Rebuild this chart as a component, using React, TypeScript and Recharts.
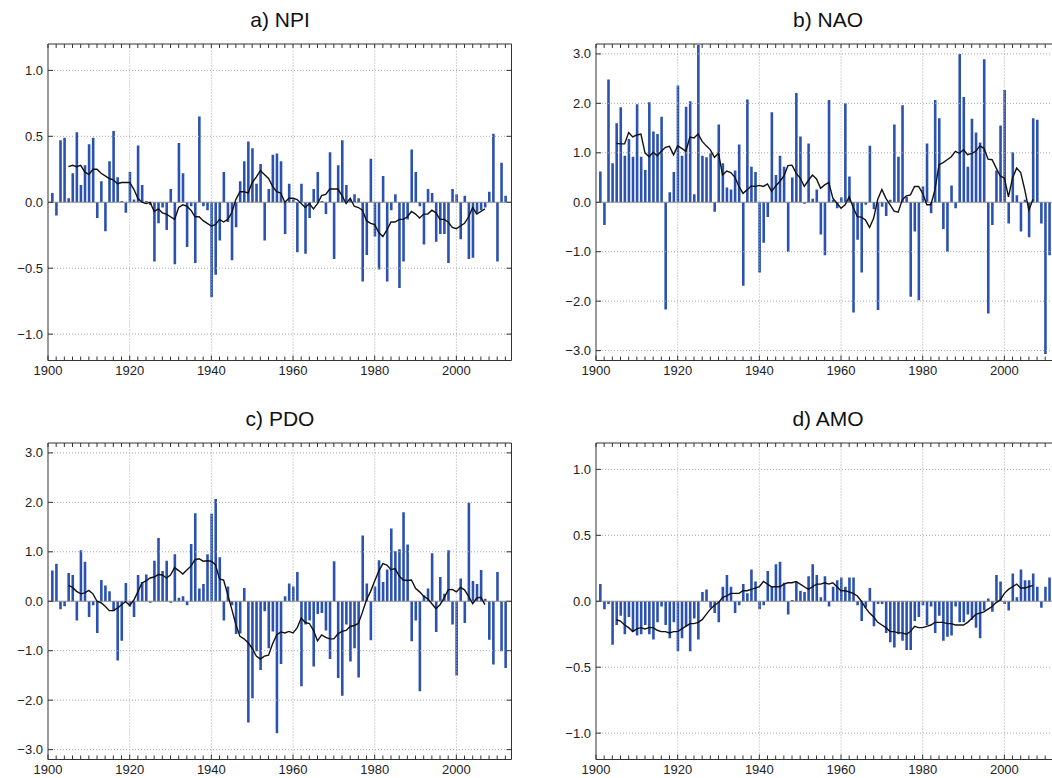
import React from 'react';
import { ComposedChart, Bar, Line, XAxis, YAxis, ReferenceLine } from 'recharts';

// yearly index values, first bar is 1901
const FIRST_YEAR = 1901;
// running mean starts here
const SMOOTH_START = 1905;

const NPI = [
  0.07, -0.10, 0.47, 0.49, 0.03, 0.22, 0.53, 0.13, 0.28, 0.44,
  0.49, -0.12, 0.16, -0.22, 0.31, 0.54, 0.19, 0.01, -0.08, 0.23,
  0.02, 0.43, 0.13, 0.01, -0.02, -0.45, -0.16, -0.04, -0.21, 0.10,
  -0.47, 0.45, 0.22, -0.34, -0.03, -0.46, 0.65, -0.03, -0.06, -0.72,
  -0.55, -0.29, 0.23, -0.15, -0.44, -0.19, 0.16, 0.31, 0.46, 0.41,
  0.14, 0.29, -0.29, 0.10, 0.36, 0.37, 0.31, -0.24, 0.14, 0.02,
  -0.38, 0.14, -0.39, -0.12, 0.10, 0.23, 0.01, -0.09, 0.38, -0.43,
  0.28, 0.47, 0.13, 0.02, 0.06, 0.03, -0.60, -0.40, 0.33, -0.26,
  -0.51, 0.20, -0.60, -0.06, 0.06, -0.65, -0.45, -0.13, 0.40, 0.23,
  -0.03, -0.32, 0.10, 0.07, -0.30, -0.24, -0.24, -0.46, 0.10, 0.06,
  -0.28, 0.05, -0.43, -0.42, -0.08, -0.06, -0.04, 0.08, 0.52, -0.45,
  0.30, 0.05,
];
const NPI_SMOOTH = [
  0.27, 0.28, 0.27, 0.28, 0.23, 0.21, 0.25, 0.25, 0.22, 0.20,
  0.18, 0.17, 0.14, 0.15, 0.15, 0.15, 0.10, 0.03, 0.00, -0.01,
  0.00, -0.07, -0.05, -0.08, -0.09, -0.11, -0.13, -0.04, -0.02, -0.03,
  -0.06, -0.11, -0.11, -0.14, -0.16, -0.18, -0.17, -0.13, -0.15, -0.13,
  -0.08, 0.02, 0.08, 0.08, 0.07, 0.15, 0.19, 0.24, 0.21, 0.18,
  0.12, 0.08, 0.07, 0.00, 0.03, 0.03, 0.02, -0.01, -0.04, -0.01,
  -0.05, -0.01, 0.05, 0.06, 0.10, 0.10, 0.10, 0.05, -0.01, 0.03,
  -0.03, -0.04, -0.06, -0.14, -0.16, -0.17, -0.23, -0.26, -0.21, -0.15,
  -0.15, -0.13, -0.13, -0.11, -0.07, -0.09, -0.12, -0.09, -0.09, -0.06,
  -0.08, -0.13, -0.13, -0.15, -0.19, -0.20, -0.18, -0.16, -0.11, -0.04,
  -0.09, -0.07, -0.05,
];

const NAO = [
  0.62, -0.46, 2.48, 0.79, 1.60, 1.92, 0.94, 1.28, 0.92, 1.98,
  0.92, 0.65, 2.02, 1.43, 1.38, 1.73, -2.17, 0.20, 0.61, 2.36,
  0.94, 1.93, 2.04, 0.16, 3.18, 0.94, 0.91, 0.99, -0.19, 1.57,
  0.79, 0.30, 0.26, 0.64, 1.17, -1.69, 2.08, 0.72, 0.61, -1.42,
  -0.82, -0.30, 1.82, 0.55, 0.94, 0.72, -1.00, 0.50, 2.21, 1.33,
  -0.03, 1.19, 0.07, 0.26, -0.65, -1.07, 2.07, 0.05, -0.12, 0.10,
  2.00, 0.52, -2.23, -0.76, -1.42, -0.05, 1.14, -0.14, -2.18, -0.09,
  -0.28, 0.05, 1.57, 0.92, 1.96, 0.11, -1.91, -0.59, -1.98, 0.32,
  1.19, -0.22, 2.07, 1.70, -0.54, -1.00, 0.34, -0.12, 3.00, 2.13,
  0.72, 1.69, 1.41, 1.21, 2.89, -2.25, -0.46, 0.64, 1.55, 2.27,
  -0.43, 1.01, 0.14, -0.59, 0.05, -0.71, 1.70, 1.67, -0.43, -3.07,
  -1.07,
];
const NAO_SMOOTH = [
  1.19, 1.18, 1.18, 1.41, 1.32, 1.36, 1.38, 1.00, 0.92, 1.01,
  0.94, 1.03, 1.11, 1.13, 0.96, 1.14, 1.09, 1.03, 1.32, 1.30,
  1.38, 1.23, 1.14, 1.06, 0.91, 0.99, 0.55, 0.63, 0.60, 0.51,
  0.32, 0.18, 0.25, 0.33, 0.32, 0.34, 0.32, 0.37, 0.22, 0.33,
  0.42, 0.53, 0.74, 0.75, 0.59, 0.49, 0.32, 0.44, 0.55, 0.47,
  0.28, 0.35, 0.40, 0.08, -0.02, -0.12, -0.05, 0.11, -0.11, -0.29,
  -0.30, -0.36, -0.51, -0.32, 0.06, 0.26, 0.08, -0.05, -0.18, -0.20,
  0.05, 0.13, 0.15, 0.32, 0.32, 0.18, -0.05, -0.05, 0.25, 0.76,
  0.80, 0.86, 0.92, 1.03, 0.99, 1.06, 0.96, 0.99, 1.03, 1.14,
  1.09, 0.87, 0.86, 0.69, 0.53, 0.49, 0.11, 0.49, 0.69, 0.60,
  0.25, -0.16, 0.06,
];

const PDO = [
  0.62, 0.76, -0.16, -0.10, 0.57, 0.53, -0.39, 1.03, 0.80, -0.32,
  -0.08, -0.64, 0.43, 0.32, 0.20, -0.20, -1.20, -0.80, 0.37, -0.11,
  -0.32, 0.53, 0.39, 0.54, -0.03, 0.82, 1.28, 0.61, 0.82, -0.03,
  0.95, 0.07, 0.10, -0.08, 1.16, 1.78, 0.26, 0.35, 0.95, 1.77,
  2.07, 0.89, -0.39, 0.30, -0.08, -0.66, -0.65, 0.27, -2.45, -1.96,
  -1.01, -1.39, -0.20, -0.95, -0.61, -2.67, -1.27, 0.10, 0.36, 0.30,
  0.59, -1.72, -0.47, -0.39, -1.32, -0.26, -0.24, -0.59, -1.17, 0.81,
  -1.55, -1.91, -0.47, -1.22, -0.95, -1.54, 1.33, 0.36, -0.79, 0.30,
  0.83, 0.39, 0.64, 1.47, 1.01, 1.05, 1.80, 1.15, -0.81, -0.39,
  -1.82, 0.12, 0.26, 0.97, -0.62, 0.49, 0.15, 1.03, -0.47, -1.50,
  0.46, -0.44, 1.99, 0.41, 0.35, 0.63, 0.05, -0.78, -1.28, 0.59,
  -1.01, -1.35,
];
const PDO_SMOOTH = [
  0.32, 0.28, 0.20, 0.15, 0.17, 0.22, 0.15, 0.00, -0.03, -0.10,
  -0.19, -0.19, -0.14, -0.07, -0.01, -0.08, 0.02, 0.19, 0.37, 0.41,
  0.47, 0.49, 0.54, 0.53, 0.47, 0.53, 0.68, 0.62, 0.55, 0.63,
  0.71, 0.84, 0.86, 0.81, 0.82, 0.81, 0.74, 0.45, 0.43, 0.14,
  -0.16, -0.47, -0.71, -0.76, -0.84, -0.95, -1.11, -1.17, -1.11, -1.09,
  -0.86, -0.68, -0.62, -0.64, -0.61, -0.64, -0.54, -0.34, -0.43, -0.45,
  -0.59, -0.80, -0.68, -0.73, -0.76, -0.76, -0.66, -0.61, -0.59, -0.51,
  -0.49, -0.45, -0.22, 0.03, 0.20, 0.41, 0.61, 0.76, 0.73, 0.64,
  0.66, 0.51, 0.43, 0.42, 0.43, 0.26, 0.19, 0.10, 0.05, -0.05,
  -0.15, -0.07, 0.07, 0.23, 0.24, 0.19, 0.28, 0.23, 0.10, -0.05,
  0.07, 0.08, -0.07,
];

const AMO = [
  0.13, -0.06, -0.02, -0.33, -0.18, -0.11, -0.25, -0.12, -0.23, -0.26,
  -0.25, -0.18, -0.25, -0.29, -0.16, -0.04, -0.18, -0.28, -0.16, -0.38,
  -0.28, -0.19, -0.38, -0.13, -0.29, 0.07, 0.09, -0.05, -0.09, -0.16,
  0.11, 0.20, 0.11, -0.09, -0.03, 0.13, 0.06, 0.24, 0.15, -0.06,
  -0.03, 0.23, 0.11, 0.28, 0.30, 0.14, -0.10, 0.01, 0.15, 0.08,
  0.07, 0.19, 0.28, 0.20, 0.03, 0.19, -0.04, 0.11, 0.16, 0.18,
  0.11, 0.18, 0.18, -0.03, -0.15, -0.05, 0.10, -0.19, -0.02, -0.02,
  -0.24, -0.31, -0.35, -0.25, -0.30, -0.37, -0.37, -0.15, -0.12, -0.03,
  -0.18, -0.04, -0.24, -0.11, -0.30, -0.27, -0.26, -0.04, -0.16, -0.16,
  -0.10, -0.14, -0.20, -0.28, -0.07, 0.02, -0.08, 0.20, 0.15, -0.02,
  -0.07, 0.21, 0.03, 0.24, 0.16, 0.16, 0.21, 0.11, -0.05, 0.11,
  0.18,
];
const AMO_SMOOTH = [
  -0.14, -0.15, -0.18, -0.20, -0.23, -0.21, -0.20, -0.21, -0.20, -0.20,
  -0.22, -0.23, -0.23, -0.24, -0.23, -0.23, -0.21, -0.19, -0.17, -0.17,
  -0.16, -0.14, -0.10, -0.06, -0.03, -0.01, 0.03, 0.04, 0.06, 0.06,
  0.06, 0.08, 0.08, 0.09, 0.10, 0.11, 0.15, 0.13, 0.11, 0.11,
  0.11, 0.13, 0.14, 0.14, 0.15, 0.13, 0.11, 0.09, 0.11, 0.13,
  0.13, 0.14, 0.13, 0.14, 0.11, 0.08, 0.08, 0.07, 0.06, 0.04,
  0.00, -0.05, -0.09, -0.12, -0.16, -0.18, -0.20, -0.23, -0.23, -0.24,
  -0.24, -0.25, -0.23, -0.19, -0.20, -0.20, -0.19, -0.18, -0.16, -0.16,
  -0.16, -0.17, -0.17, -0.18, -0.18, -0.18, -0.16, -0.13, -0.10, -0.09,
  -0.08, -0.06, -0.04, -0.01, 0.01, 0.06, 0.09, 0.11, 0.13, 0.10,
  0.10, 0.11, 0.12,
];

const YEAR_LABELS = [1900, 1920, 1940, 1960, 1980, 2000];
const SMALL_TICKS = [-1, -0.5, 0, 0.5, 1];
const LARGE_TICKS = [-3, -2, -1, 0, 1, 2, 3];

const MINOR_YEARS: number[] = [];
for (let y = 1900; y <= 2012; y += 2) MINOR_YEARS.push(y);

const X_DOMAIN: [number, number] = [1900, 2013.5];
const BAR_COLOR = '#2c52b0';
const FRAME = '#333';
const GRID = '#a8a8a8';
const FONT = '"Liberation Sans", Arial, sans-serif';

const fmt = (v: number) => (v < 0 ? '\u2212' + Math.abs(v).toFixed(1) : v.toFixed(1));

function buildData(values: number[], smooth: number[]) {
  return values.map((v, i) => {
    const year = FIRST_YEAR + i;
    const k = year - SMOOTH_START;
    return { year, v, s: k >= 0 && k < smooth.length ? smooth[k] : null };
  });
}

const BottomTick = (p: any) => {
  const major = p.payload.value % 20 === 0;
  return (
    <g>
      <line x1={p.x} x2={p.x} y1={p.y} y2={p.y - (major ? 5 : 4)} stroke={FRAME} />
      {major && (
        <text x={p.x} y={p.y + 5} dy="0.71em" textAnchor="middle" fontSize={13} fill="#222" fontFamily={FONT}>
          {p.payload.value}
        </text>
      )}
    </g>
  );
};

const TopTick = (p: any) => (
  <line x1={p.x} x2={p.x} y1={p.y} y2={p.y + 4} stroke={FRAME} />
);

const LeftTick = (p: any) => (
  <g>
    <line x1={p.x} x2={p.x + 5} y1={p.y} y2={p.y} stroke={FRAME} />
    <text x={p.x - 5} y={p.y} dy="0.35em" textAnchor="end" fontSize={13} fill="#222" fontFamily={FONT}>
      {fmt(p.payload.value)}
    </text>
  </g>
);

const RightTick = (p: any) => (
  <line x1={p.x} x2={p.x - 5} y1={p.y} y2={p.y} stroke={FRAME} />
);

function Panel({ values, smooth, ticks, limit, left, top }: any) {
  const data = buildData(values, smooth);
  const yDomain: [number, number] = [-limit, limit];
  return (
    <div style={{ position: 'absolute', left, top }}>
      <ComposedChart width={530} height={392} data={data} margin={{ top: 43, right: 17.5, bottom: 0, left: 0 }}>
        <XAxis
          dataKey="year"
          type="number"
          domain={X_DOMAIN}
          allowDataOverflow
          ticks={MINOR_YEARS}
          interval={0}
          height={31.5}
          tickSize={0}
          tickMargin={0}
          tickLine={false}
          axisLine={{ stroke: FRAME }}
          tick={BottomTick}
        />
        <XAxis
          xAxisId="top"
          orientation="top"
          dataKey="year"
          type="number"
          domain={X_DOMAIN}
          allowDataOverflow
          ticks={MINOR_YEARS}
          interval={0}
          height={1}
          tickSize={0}
          tickMargin={0}
          tickLine={false}
          axisLine={{ stroke: FRAME }}
          tick={TopTick}
        />
        <YAxis
          type="number"
          domain={yDomain}
          allowDataOverflow
          ticks={ticks}
          interval={0}
          width={48}
          tickSize={0}
          tickMargin={0}
          tickLine={false}
          axisLine={{ stroke: FRAME }}
          tick={LeftTick}
        />
        <YAxis
          yAxisId="right"
          orientation="right"
          type="number"
          domain={yDomain}
          allowDataOverflow
          ticks={ticks}
          interval={0}
          width={1}
          tickSize={0}
          tickMargin={0}
          tickLine={false}
          axisLine={{ stroke: FRAME }}
          tick={RightTick}
        />
        {YEAR_LABELS.slice(1).map((yr) => (
          <ReferenceLine key={'gx' + yr} x={yr} stroke={GRID} strokeDasharray="1 2" />
        ))}
        {ticks.filter((t: number) => t !== 0).map((t: number) => (
          <ReferenceLine key={'gy' + t} y={t} stroke={GRID} strokeDasharray="1 2" />
        ))}
        <ReferenceLine y={0} stroke="#8c8c8c" />
        <Bar dataKey="v" fill={BAR_COLOR} barSize={2.6} isAnimationActive={false} />
        <Line
          dataKey="s"
          type="linear"
          stroke="#111"
          strokeWidth={1.4}
          dot={false}
          activeDot={false}
          connectNulls={false}
          isAnimationActive={false}
        />
      </ComposedChart>
    </div>
  );
}

const TITLES = [
  { text: 'a) NPI', x: 280, y: 26.5 },
  { text: 'b) NAO', x: 828, y: 26.5 },
  { text: 'c) PDO', x: 280, y: 425.5 },
  { text: 'd) AMO', x: 828, y: 425.5 },
];

export default function App() {
  return (
    <div
      style={{
        position: 'fixed',
        left: 0,
        top: 0,
        width: 1052,
        height: 778,
        overflow: 'hidden',
        background: '#fff',
        fontFamily: FONT,
      }}
    >
      <Panel values={NPI} smooth={NPI_SMOOTH} ticks={SMALL_TICKS} limit={1.2} left={0} top={0} />
      <Panel values={NAO} smooth={NAO_SMOOTH} ticks={LARGE_TICKS} limit={3.2} left={548} top={0} />
      <Panel values={PDO} smooth={PDO_SMOOTH} ticks={LARGE_TICKS} limit={3.2} left={0} top={399} />
      <Panel values={AMO} smooth={AMO_SMOOTH} ticks={SMALL_TICKS} limit={1.2} left={548} top={399} />
      <svg width={1052} height={778} style={{ position: 'absolute', left: 0, top: 0, pointerEvents: 'none' }}>
        {TITLES.map((t) => (
          <text key={t.text} x={t.x} y={t.y} textAnchor="middle" fontSize={21} fill="#111" fontFamily={FONT}>
            {t.text}
          </text>
        ))}
      </svg>
    </div>
  );
}
